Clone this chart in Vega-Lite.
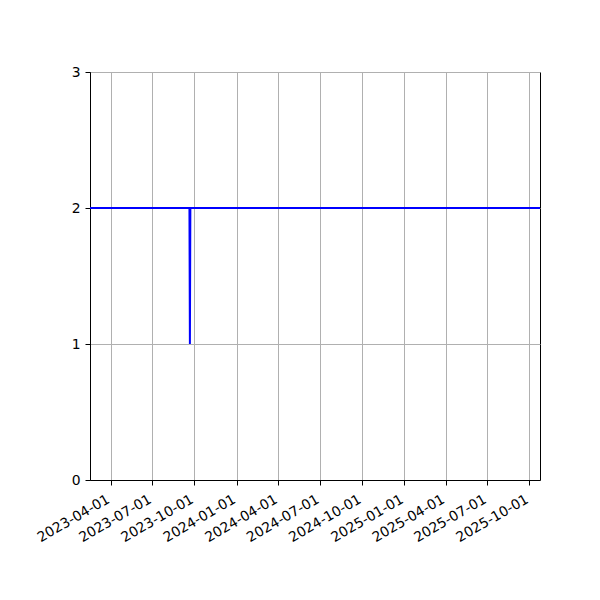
{
  "$schema": "https://vega.github.io/schema/vega-lite/v6.json",
  "width": 450,
  "height": 408,
  "autosize": "none",
  "padding": {"left": 90, "top": 72, "right": 60, "bottom": 120},
  "background": "white",
  "config": {
    "font": "DejaVu Sans",
    "view": {"stroke": "black", "strokeWidth": 1},
    "axis": {
      "labelFont": "DejaVu Sans",
      "labelFontSize": 13.9,
      "labelColor": "black",
      "domainColor": "black",
      "tickColor": "black",
      "tickSize": 5,
      "gridColor": "#b0b0b0",
      "gridWidth": 1,
      "gridOpacity": 1,
      "title": null
    }
  },
  "data": {
    "values": [
      {"date": "2023-02-15", "value": 2},
      {"date": "2023-09-20", "value": 2},
      {"date": "2023-09-21", "value": 1},
      {"date": "2023-09-22", "value": 2},
      {"date": "2025-10-24", "value": 2}
    ]
  },
  "mark": {"type": "line", "color": "#0000ff", "strokeWidth": 2, "clip": true},
  "encoding": {
    "x": {
      "field": "date",
      "type": "temporal",
      "scale": {
        "type": "utc",
        "domain": [
          {"year": 2023, "month": 2, "date": 15, "utc": true},
          {"year": 2025, "month": 10, "date": 24, "utc": true}
        ],
        "nice": false
      },
      "axis": {
        "values": [
          {"year": 2023, "month": 4, "date": 1, "utc": true},
          {"year": 2023, "month": 7, "date": 1, "utc": true},
          {"year": 2023, "month": 10, "date": 1, "utc": true},
          {"year": 2024, "month": 1, "date": 1, "utc": true},
          {"year": 2024, "month": 4, "date": 1, "utc": true},
          {"year": 2024, "month": 7, "date": 1, "utc": true},
          {"year": 2024, "month": 10, "date": 1, "utc": true},
          {"year": 2025, "month": 1, "date": 1, "utc": true},
          {"year": 2025, "month": 4, "date": 1, "utc": true},
          {"year": 2025, "month": 7, "date": 1, "utc": true},
          {"year": 2025, "month": 10, "date": 1, "utc": true}
        ],
        "labelExpr": "utcFormat(datum.value, '%Y-%m-%d')",
        "labelAngle": -30,
        "labelAlign": "right",
        "labelBaseline": "top",
        "labelPadding": 7,
        "labelOffset": -6,
        "labelOverlap": false,
        "labelFlush": false
      }
    },
    "y": {
      "field": "value",
      "type": "quantitative",
      "scale": {"domain": [0, 3], "nice": false},
      "axis": {"values": [0, 1, 2, 3], "labelPadding": 5}
    }
  }
}
